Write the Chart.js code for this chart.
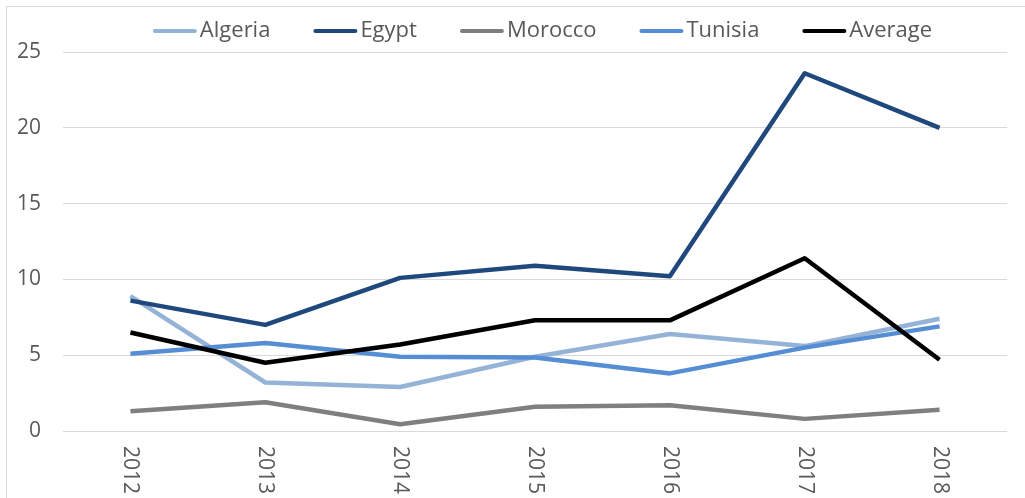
<!DOCTYPE html>
<html>
<head>
<meta charset="utf-8">
<script src="https://cdn.jsdelivr.net/npm/chart.js@4.4.0/dist/chart.umd.min.js"></script>
<style>
    html, body { margin: 0; padding: 0; background: #fff; overflow: hidden; }
    #wrap { position: relative; width: 1025px; height: 498px; }
    #frame {
        position: absolute; left: 6px; top: 6px; width: 1100px; height: 600px;
        border: 1px solid #d9d9d9; pointer-events: none;
    }
</style>
</head>
<body>
<div id="wrap">
    <canvas id="chart" width="1025" height="498"></canvas>
    <div id="frame"></div>
</div>
<script>
// --- Data ---
const years = ['2012', '2013', '2014', '2015', '2016', '2017', '2018'];
const algeria = [8.9, 3.2, 2.9, 4.9, 6.4, 5.6, 7.4];
const egypt = [8.6, 7.0, 10.1, 10.9, 10.2, 23.6, 20.0];
const morocco = [1.3, 1.9, 0.45, 1.6, 1.7, 0.8, 1.4];
const tunisia = [5.1, 5.8, 4.9, 4.85, 3.8, 5.5, 6.9];
const average = [6.5, 4.5, 5.7, 7.3, 7.3, 11.4, 4.7];
const yTicks = [0, 5, 10, 15, 20, 25];

const FONT = "'Open Sans', 'Noto Sans', sans-serif";
const TEXT_COLOR = '#595959';

const series = [
    { label: 'Algeria', data: algeria, color: '#95b3d7', order: 5 },
    { label: 'Egypt', data: egypt, color: '#1f497d', order: 4 },
    { label: 'Morocco', data: morocco, color: '#7f7f7f', order: 3 },
    { label: 'Tunisia', data: tunisia, color: '#558ed5', order: 2 },
    { label: 'Average', data: average, color: '#000000', order: 1 },
];

// x labels read top-to-bottom (rotated clockwise)
const verticalYearLabels = {
    id: 'verticalYearLabels',
    afterDraw(chart) {
        const { ctx, scales: { x } } = chart;
        ctx.save();
        ctx.font = `21px ${FONT}`;
        ctx.fillStyle = TEXT_COLOR;
        ctx.textAlign = 'left';
        ctx.textBaseline = 'middle';
        years.forEach((year, i) => {
            const px = x.getPixelForValue(i);
            ctx.save();
            ctx.translate(px, x.top + 15);
            ctx.rotate(Math.PI / 2);
            ctx.fillText(year, 0, 0);
            ctx.restore();
        });
        ctx.restore();
    }
};

// legend row: short line sample, tight gap, then the label
const lineLegend = {
    id: 'lineLegend',
    afterDraw(chart) {
        const { ctx } = chart;
        const lineLen = 44, textGap = 3, itemGap = 43, y = 31;
        ctx.save();
        ctx.font = `22px ${FONT}`;
        const items = chart.data.datasets.map(ds => ({
            text: ds.label,
            color: ds.borderColor,
            w: ctx.measureText(ds.label).width
        }));
        const total = items.reduce((s, it) => s + lineLen + textGap + it.w, 0) + itemGap * (items.length - 1);
        let x = (chart.width - total) / 2 + 30;
        ctx.textBaseline = 'middle';
        ctx.textAlign = 'left';
        ctx.lineCap = 'round';
        items.forEach(it => {
            ctx.strokeStyle = it.color;
            ctx.lineWidth = 4;
            ctx.beginPath();
            ctx.moveTo(x + 2, y);
            ctx.lineTo(x + lineLen - 2, y);
            ctx.stroke();
            ctx.fillStyle = TEXT_COLOR;
            ctx.fillText(it.text, x + lineLen + textGap, y);
            x += lineLen + textGap + it.w + itemGap;
        });
        ctx.restore();
    }
};

new Chart(document.getElementById('chart'), {
    type: 'line',
    data: {
        labels: years,
        datasets: series.map(s => ({
            label: s.label,
            data: s.data,
            borderColor: s.color,
            backgroundColor: s.color,
            borderWidth: 4.5,
            pointRadius: 0,
            tension: 0,
            borderJoinStyle: 'round',
            order: s.order,
            fill: false
        }))
    },
    options: {
        responsive: false,
        animation: false,
        layout: { padding: { left: 0, right: 18, top: 52, bottom: 0 } },
        scales: {
            x: {
                offset: true,
                grid: { display: false, drawTicks: false },
                border: { display: false },
                ticks: { display: false },
                afterFit: (scale) => { scale.height = 67; }
            },
            y: {
                min: 0,
                max: 25,
                afterBuildTicks: (scale) => { scale.ticks = yTicks.map(v => ({ value: v })); },
                grid: { color: '#d9d9d9', lineWidth: 1, drawTicks: false },
                border: { display: false },
                ticks: { color: TEXT_COLOR, font: { family: FONT, size: 21 }, padding: 22 },
                afterFit: (scale) => { scale.width = 63; }
            }
        },
        plugins: {
            legend: { display: false },
            tooltip: { enabled: false }
        }
    },
    plugins: [verticalYearLabels, lineLegend]
});
</script>
</body>
</html>
